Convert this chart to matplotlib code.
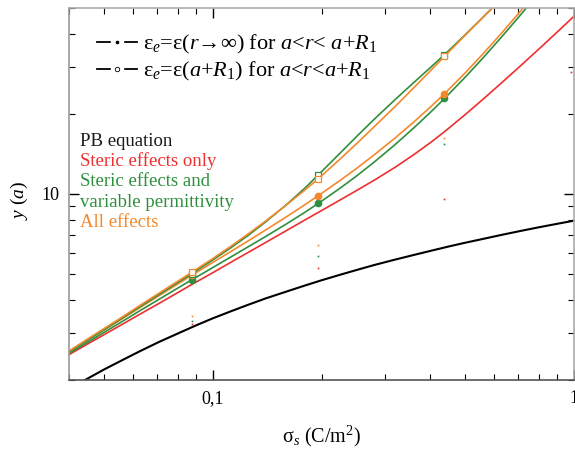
import matplotlib
matplotlib.use('Agg')
import matplotlib.pyplot as plt
import numpy as np
from matplotlib.lines import Line2D
from matplotlib.legend_handler import HandlerTuple
from matplotlib.ticker import LogLocator, NullFormatter, FixedLocator, FixedFormatter

plt.rcParams['font.family'] = ['Liberation Serif', 'DejaVu Serif']
plt.rcParams['mathtext.fontset'] = 'custom'
plt.rcParams['mathtext.rm'] = 'Liberation Serif'
plt.rcParams['mathtext.it'] = 'Liberation Serif:italic'
plt.rcParams['mathtext.bf'] = 'Liberation Serif:bold'

# surface charge density sigma_s (C/m^2) and potential y(a)
pb_x = [0.044, 0.05, 0.056, 0.063, 0.071, 0.08, 0.09, 0.1, 0.112, 0.125, 0.14, 0.16, 0.18,
        0.2, 0.225, 0.25, 0.28, 0.32, 0.36, 0.4, 0.45, 0.5, 0.56, 0.63, 0.71, 0.8, 0.9, 1.0]
pb_y = [1.99, 2.19, 2.37, 2.57, 2.78, 2.99, 3.21, 3.41, 3.62, 3.83, 4.05, 4.30, 4.53,
        4.74, 4.97, 5.18, 5.41, 5.67, 5.90, 6.11, 6.35, 6.56, 6.78, 7.02, 7.26, 7.50, 7.73, 7.94]

# common sigma grid for the other curves (markers sit at 0.0875, 0.196, 0.438)
sig = [0.04, 0.045, 0.05, 0.056, 0.063, 0.071, 0.08, 0.0875, 0.1, 0.112, 0.125, 0.14, 0.16,
       0.18, 0.196, 0.225, 0.25, 0.28, 0.32, 0.36, 0.4, 0.438, 0.5, 0.56, 0.63, 0.71, 0.8,
       0.9, 1.0]

steric_y = [2.49, 2.73, 2.96, 3.23, 3.54, 3.88, 4.26, 4.57, 5.06, 5.53, 6.02, 6.57, 7.29,
            7.99, 8.53, 9.49, 10.30, 11.27, 12.61, 14.05, 15.58, 17.14, 19.89, 22.70, 26.15,
            30.26, 35.08, 40.69, 46.56]

# steric + variable permittivity, eps_e = eps(r -> inf)
perm_inf_y = [2.52, 2.77, 3.02, 3.31, 3.65, 4.02, 4.43, 4.76, 5.29, 5.79, 6.32, 6.92, 7.72,
              8.54, 9.22, 10.51, 11.68, 13.19, 15.35, 17.71, 20.24, 22.85, 27.49, 32.47,
              38.89, 46.98, 56.9]

# all effects, eps_e = eps(r -> inf)
all_inf_y = [2.55, 2.82, 3.08, 3.39, 3.75, 4.15, 4.59, 4.95, 5.53, 6.07, 6.65, 7.32, 8.21,
             9.12, 9.86, 11.24, 12.47, 14.04, 16.25, 18.63, 21.2, 23.81, 28.53, 33.63,
             40.22, 48.53, 58.7]

# steric + variable permittivity, eps_e = eps(a + R1)
perm_r1_y = [2.55, 2.82, 3.09, 3.41, 3.78, 4.19, 4.65, 5.02, 5.65, 6.27, 6.97, 7.85, 9.12,
             10.53, 11.8, 14.23, 16.43, 19.1, 22.66, 26.22, 29.83, 33.39, 39.67, 46.15, 54.2]

# all effects, eps_e = eps(a + R1)
all_r1_y = [2.57, 2.85, 3.12, 3.44, 3.82, 4.24, 4.70, 5.08, 5.72, 6.35, 7.06, 7.91, 9.10,
            10.36, 11.42, 13.52, 15.45, 17.91, 21.35, 25.06, 29.0, 32.91, 39.53, 46.1, 54.0]

marker_x = [0.0875, 0.196, 0.438]

# small stray dots seen under the marker positions
dots_x = [0.0875, 0.196, 0.438]
dots_orange = [3.48, 6.43, 16.2]
dots_green = [3.33, 5.85, 15.4]
dots_red_x = [0.0875, 0.196, 0.438, 0.981]
dots_red = [3.24, 5.27, 9.55, 28.7]

red = '#ee2f2f'
green = '#2e8f3e'
orange = '#f5882c'

fig = plt.figure(figsize=(5.75, 4.5), dpi=100)
ax = fig.add_axes([69 / 575, 70 / 450, 505 / 575, 372 / 450])


def marks(n):
    return list(np.where(np.isin(sig[:n], marker_x))[0])


ax.plot(pb_x, pb_y, color='black', lw=1.5)
ax.plot(sig, steric_y, color=red, lw=1.2)
n = len(perm_inf_y)
ax.plot(sig[:n], perm_inf_y, color=green, lw=1.2, marker='o', ms=4.5, markevery=marks(n))
n = len(all_inf_y)
ax.plot(sig[:n], all_inf_y, color=orange, lw=1.2, marker='o', ms=4.5, markevery=marks(n))
n = len(perm_r1_y)
ax.plot(sig[:n], perm_r1_y, color=green, lw=1.2, marker='s', ms=4.5, mfc='white',
        mew=0.9, markevery=marks(n))
n = len(all_r1_y)
ax.plot(sig[:n], all_r1_y, color=orange, lw=1.2, marker='s', ms=4.5, mfc='white',
        mew=0.9, markevery=marks(n))

ax.plot(dots_x, dots_orange, ls='none', marker='s', ms=1.2, mew=0, color=orange)
ax.plot(dots_x, dots_green, ls='none', marker='s', ms=1.2, mew=0, color=green)
ax.plot(dots_red_x, dots_red, ls='none', marker='s', ms=1.2, mew=0, color=red)

ax.set_xscale('log')
ax.set_yscale('log')
ax.set_xlim(0.04, 1.0)
ax.set_ylim(2, 50)

ax.xaxis.set_major_locator(FixedLocator([0.1, 1]))
ax.xaxis.set_major_formatter(FixedFormatter(['0,1', '1']))
ax.xaxis.set_minor_locator(LogLocator(subs=np.arange(2, 10)))
ax.xaxis.set_minor_formatter(NullFormatter())
ax.yaxis.set_major_locator(FixedLocator([10]))
ax.yaxis.set_major_formatter(FixedFormatter(['10']))
ax.yaxis.set_minor_locator(LogLocator(subs=np.arange(2, 10)))
ax.yaxis.set_minor_formatter(NullFormatter())

ax.tick_params(which='both', direction='in', top=True, right=True, labelsize=13)
ax.tick_params(which='major', length=7, width=1, pad=7)
ax.tick_params(which='minor', length=4.5, width=0.8)

ax.spines['left'].set_color('#9a9a9a')
ax.spines['bottom'].set_color('#555555')
ax.spines['top'].set_color('#aaaaaa')
ax.spines['right'].set_color('#aaaaaa')
for s in ax.spines.values():
    s.set_linewidth(1.2)

ax.set_xlabel('σ$_s$ (C/m$^2$)', fontsize=14.5)
ax.xaxis.set_label_coords(0.499, -0.118)
ax.xaxis.label.set_va('top')
ax.set_ylabel('$y$ ($a$)', fontsize=14)
ax.yaxis.set_label_coords(-0.078, 0.484)

h1 = (Line2D([], [], color='black', lw=1.3),
      Line2D([], [], ls='none', marker='s', ms=9, mfc='white', mec='white'),
      Line2D([], [], ls='none', marker='o', ms=1.6, color='black'))
h2 = (Line2D([], [], color='black', lw=1.3),
      Line2D([], [], ls='none', marker='s', ms=9, mfc='white', mec='white'),
      Line2D([], [], ls='none', marker='o', ms=3.2, mfc='white', mec='black', mew=0.6))
labels = ['ε$_e$=ε($r$→∞) for $a$<$r$< $a$+$R_1$',
          'ε$_e$=ε($a$+$R_1$) for $a$<$r$<$a$+$R_1$']
ax.legend([h1, h2], labels, handler_map={tuple: HandlerTuple(ndivide=1, pad=0)},
          loc='upper left', bbox_to_anchor=(0.055, 0.932), frameon=False, fontsize=16,
          borderpad=0, borderaxespad=0, handlelength=1.8, handletextpad=0.27,
          labelspacing=0.17, numpoints=1)

names = ['PB equation', 'Steric effects only', 'Steric effects and', 'variable permittivity',
         'All effects']
name_colors = ['#1a1a1a', red, green, green, orange]
name_y = [0.629, 0.575, 0.5215, 0.465, 0.411]
for t, c, yy in zip(names, name_colors, name_y):
    ax.text(0.0218, yy, t, color=c, fontsize=13.5, transform=ax.transAxes, va='baseline')

fig.savefig('out.png', dpi=100)
